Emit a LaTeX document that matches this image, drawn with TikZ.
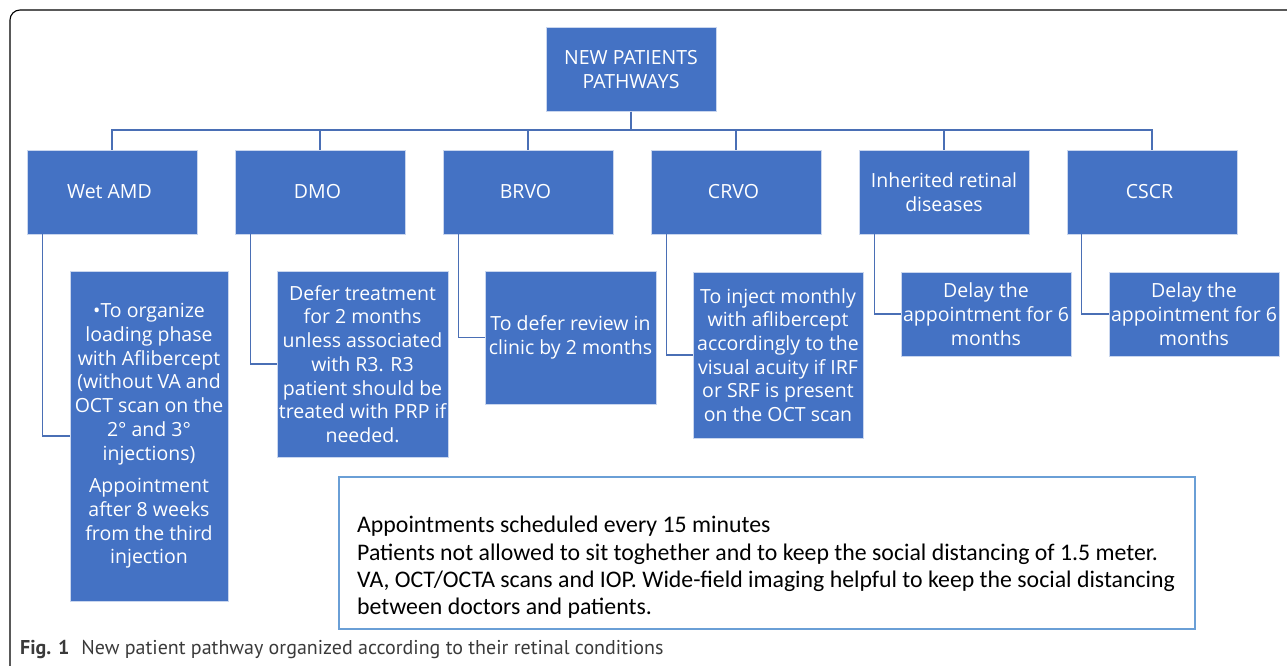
\documentclass[tikz,border=0pt]{standalone}
\usepackage{fontspec}
\setmainfont{Open Sans}
\newfontfamily\notefont{Carlito}
\newfontfamily\capfont{PT Sans}
\usetikzlibrary{positioning}
\definecolor{boxblue}{HTML}{4472C4}
\definecolor{boxedge}{HTML}{C9D6EE}
\definecolor{linkblue}{HTML}{4A6FB5}
\definecolor{noteedge}{HTML}{6A9FD6}
\definecolor{capgray}{HTML}{3A3A3A}

\begin{document}
\begin{tikzpicture}[x = 1pt, y = -1pt,
    box/.style = { draw = boxedge, line width = 0.8, fill = boxblue, text = white, align = center,
                   inner sep = 0, font = \fontsize{19.5}{23.7}\selectfont },
    catbox/.style = { box, minimum width = 170, minimum height = 84 },
    link/.style = { draw = linkblue, line width = 1.3 },
    notebox/.style = { draw = noteedge, line width = 1.3, minimum width = 856, minimum height = 152 },
    notetext/.style = { align = left, inner sep = 0, font = \notefont\fontsize{23.8}{27.3}\selectfont },
    captext/.style = { inner sep = 0, text = capgray, font = \capfont\fontsize{20}{22}\selectfont }]

    \useasboundingbox (0,0) rectangle (1287,666);
    \begin{scope}
      \clip (0,0) rectangle (1287,666);
      \draw [rounded corners = 10, line width = 1.1] (10,700) -- (10,10) -- (1320,10);
    \end{scope}

    % root and the six conditions
    \node [catbox] (top) at (631,69.5) { NEW PATIENTS \\ PATHWAYS };
    \node [catbox] (wet) at (112,192) { Wet AMD };
    \node [catbox, right = 37.2 of wet] (dmo) { DMO };
    \node [catbox, right = 37.2 of dmo] (brvo) { BRVO };
    \node [catbox, right = 37.2 of brvo] (crvo) { CRVO };
    \node [catbox, right = 37.2 of crvo] (ird) { Inherited retinal \\ diseases };
    \node [catbox, right = 37.2 of ird] (cscr) { CSCR };

    \coordinate (bar) at (631,130);
    \foreach \n in {wet, dmo, brvo, crvo, ird, cscr}
      \draw [link] (top.south) |- (bar -| \n.north) -- (\n.north);

    % what to do for each one
    \node [box, minimum width = 158, minimum height = 330] (wetc) at (149,436)
      { •To organize \\ loading phase \\ with Aflibercept \\ (without VA and \\ OCT scan on the \\ 2° and 3° \\ injections) \\[9pt]
        Appointment \\ after 8 weeks \\ from the third \\ injection };
    \node [box, minimum width = 171, minimum height = 186] (dmoc) at (362.5,364)
      { Defer treatment \\ for 2 months \\ unless associated \\ with R3. R3 \\ patient should be \\ treated with PRP if \\ needed. };
    \node [box, minimum width = 171, minimum height = 133] (brvoc) at (570.5,337.5)
      { To defer review in \\ clinic by 2 months };
    \node [box, minimum width = 170, minimum height = 166] (crvoc) at (778,355)
      { To inject monthly \\ with aflibercept \\ accordingly to the \\ visual acuity if IRF \\ or SRF is present \\ on the OCT scan };
    \node [box, minimum width = 170, minimum height = 84] (irdc) at (986,314)
      { Delay the \\ appointment for 6 \\ months };
    \node [box, minimum width = 170, minimum height = 84] (cscrc) at (1194,314)
      { Delay the \\ appointment for 6 \\ months };

    \draw [link] ([xshift = 16] wet.south west) |- (wetc.west);
    \draw [link] ([xshift = 16] dmo.south west) |- (dmoc.west);
    \draw [link] ([xshift = 16] brvo.south west) |- (brvoc.west);
    \draw [link] ([xshift = 16] crvo.south west) |- (crvoc.west);
    \draw [link] ([xshift = 16] ird.south west) |- (irdc.west);
    \draw [link] ([xshift = 15] cscr.south west) |- (cscrc.west);

    % notes and caption
    \node [notebox] (notes) at (767,553) {};
    \node [notetext, anchor = north west] (notetext) at (357,516)
      { Appointments scheduled every 15 minutes \\
        Patients not allowed to sit toghether and to keep the social distancing of 1.5 meter. \\
        VA, OCT/OCTA scans and IOP. Wide-field imaging helpful to keep the social distancing \\
        between doctors and patients. };
    \node [captext, anchor = west] (caption) at (20,649)
      { \textbf{Fig. 1}\hspace{0.6em}New patient pathway organized according to their retinal conditions };
\end{tikzpicture}
\end{document}
